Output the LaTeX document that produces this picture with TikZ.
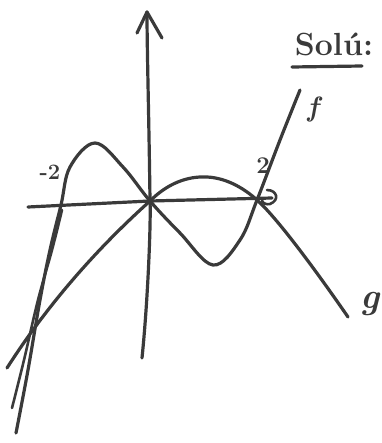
\documentclass[tikz,border=0pt]{standalone}
\usetikzlibrary{arrows.meta}
\definecolor{ink}{HTML}{3A3A3A}
\begin{document}
\begin{tikzpicture}[x=1pt,y=-1pt,
  pen/.style={draw=ink,line width=3.2pt,line cap=round,line join=round},
  thinpen/.style={draw=ink,line width=2.6pt,line cap=round,line join=round},
  lbl/.style={text=ink,inner sep=0pt}]
\useasboundingbox (0,0) rectangle (381,443);
% axes
\coordinate (xl) at (28,207);
\coordinate (xr) at (272,198);
\coordinate (yb) at (142,358);
\coordinate (yt) at (147,12);
\coordinate (o) at (150,201);
\draw[pen] (xl) -- (o) -- (xr);
\draw[pen] (yb) .. controls (148,300) and (151,220) .. (o) .. controls (149,120) and (147,50) .. (yt);
% vertical arrowhead
\draw[pen] (137,33) -- (yt) -- (162,38);
% horizontal hook arrowhead
\draw[thinpen] (267,190) .. controls (277,190) and (280,200) .. (270,204) .. controls (266,205) and (262,203) .. (262,200);
% curve f
\draw[pen] plot[smooth,tension=0.6] coordinates {(300,90) (280,140) (257,200) (240,240) (213,265) (180,233) (150,201) (123,167) (95,143) (70,167) (61,205) (50,250) (40,300) (28,370) (16,433)};
% second stroke on left branch of f
\draw[thinpen] plot[smooth,tension=0.6] coordinates {(62,210) (52,250) (38,300) (24,360) (12,408)};
% curve g
\coordinate (gl) at (7,368);
\coordinate (gm) at (207,177);
\coordinate (gz) at (257,200);
\coordinate (gr) at (348,317);
\draw[pen] (gl) .. controls (60,285) and (120,228) .. (o)
  .. controls (168,183) and (188,176) .. (gm)
  .. controls (228,178) and (246,190) .. (gz)
  .. controls (275,216) and (310,262) .. (gr);
% labels
\node[lbl,font=\fontsize{32}{34}\selectfont\bfseries] (sol) at (334,44) {Solú:};
\draw[pen] (292,67) -- (362,66);
\node[lbl,font=\fontsize{28}{30}\selectfont\bfseries\itshape] (f) at (313,110) {f};
\node[lbl,font=\fontsize{36}{38}\selectfont\bfseries\itshape] (g) at (370,304) {g};
\node[lbl,font=\fontsize{22}{24}\selectfont\bfseries] (m2) at (50,172) {-2};
\node[lbl,font=\fontsize{24}{26}\selectfont\bfseries] (p2) at (263,166) {2};
\end{tikzpicture}
\end{document}
